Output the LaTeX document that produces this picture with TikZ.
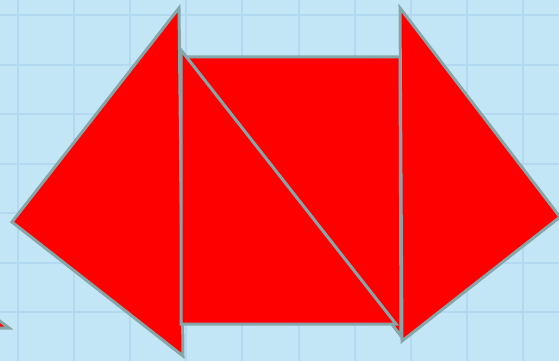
\documentclass[tikz,border=0pt]{standalone}
\definecolor{bg}{HTML}{C2E6F5}
\definecolor{gridc}{HTML}{B3D9F0}
\definecolor{edgec}{HTML}{86A6A9}
\begin{document}
\begin{tikzpicture}[x=1pt,y=-1pt,
  piece/.style={fill=red, draw=edgec, line width=3pt, line join=miter},
  gridline/.style={draw=gridc, line width=2pt}]
\useasboundingbox (0,0) rectangle (559,361);
\clip (0,0) rectangle (559,361);
\fill[bg] (0,0) rectangle (559,361);
\foreach \i in {0,...,9} \draw[gridline] ({18+56.1*\i},0) -- ++(0,361);
\foreach \j in {0,...,6} \draw[gridline] (0,{15+49.5*\j}) -- ++(559,0);
% left triangle
\draw[piece] (179,8) -- (12,222) -- (183,356) -- cycle;
% upper-right triangle of the square
\draw[piece] (184,57) -- (400,57) -- (401,336) -- cycle;
% lower-left triangle of the square
\draw[piece] (181,50) -- (181,324) -- (396,324) -- cycle;
% right triangle
\draw[piece] (400,8) -- (560,217) -- (402,341) -- cycle;
% small piece bottom-left
\draw[piece] (-20,306) -- (9,328) -- (-20,328) -- cycle;
\end{tikzpicture}
\end{document}
